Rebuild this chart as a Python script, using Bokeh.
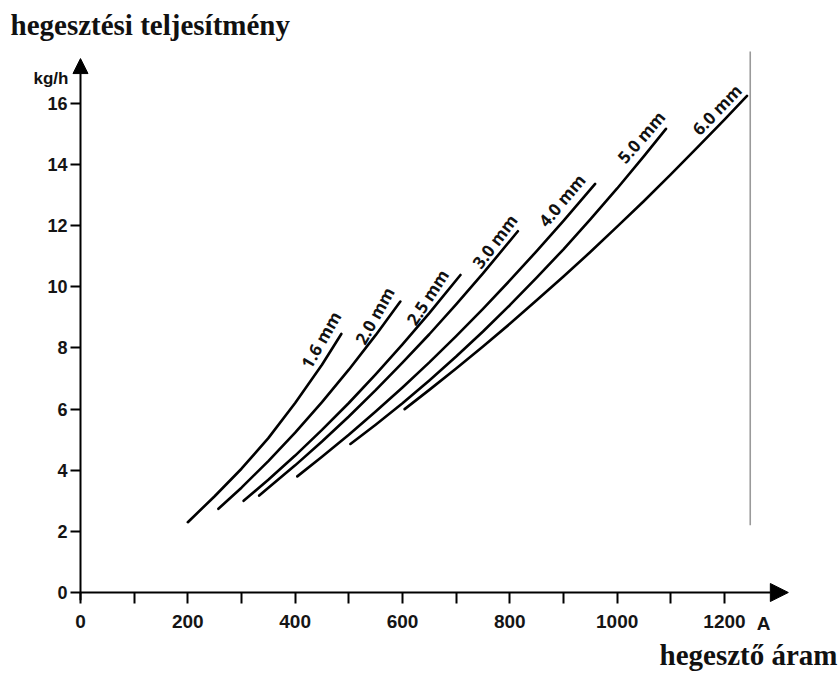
from bokeh.plotting import figure
from bokeh.models import (LinearAxis, FixedTicker, Range1d, Arrow, NormalHead,
                          Label, ColumnDataSource)
from bokeh.core.properties import value
from bokeh.embed import file_html
from bokeh.resources import INLINE

# ---------------- data ----------------
diameters = ["1.6 mm", "2.0 mm", "2.5  mm", "3.0 mm", "4.0 mm", "5.0 mm", "6.0 mm"]

current_16 = [200, 250, 300, 350, 400, 450, 486]
rate_16 = [2.3, 3.15, 4.05, 5.05, 6.2, 7.45, 8.46]

current_20 = [257, 300, 350, 400, 450, 500, 550, 596]
rate_20 = [2.74, 3.43, 4.3, 5.23, 6.23, 7.29, 8.42, 9.52]

current_25 = [304, 350, 400, 450, 500, 550, 600, 650, 708]
rate_25 = [3.0, 3.69, 4.48, 5.32, 6.2, 7.14, 8.12, 9.14, 10.39]

current_30 = [333, 400, 450, 500, 550, 600, 650, 700, 750, 815]
rate_30 = [3.17, 4.16, 4.94, 5.76, 6.62, 7.52, 8.45, 9.43, 10.44, 11.82]

current_40 = [404, 450, 500, 550, 600, 650, 700, 750, 800, 850, 900, 959]
rate_40 = [3.8, 4.44, 5.16, 5.92, 6.71, 7.53, 8.39, 9.28, 10.21, 11.17, 12.16, 13.37]

current_50 = [503, 550, 600, 650, 700, 750, 800, 850, 900, 950, 1000, 1050, 1091]
rate_50 = [4.86, 5.49, 6.19, 6.94, 7.72, 8.54, 9.4, 10.3, 11.23, 12.21, 13.22, 14.28, 15.17]

current_60 = [604, 650, 700, 750, 800, 850, 900, 950, 1000, 1050, 1100, 1150, 1200, 1242]
rate_60 = [6.0, 6.63, 7.33, 8.05, 8.79, 9.56, 10.34, 11.14, 11.97, 12.81, 13.68, 14.57, 15.47, 16.25]

x_major_ticks = [0, 200, 400, 600, 800, 1000, 1200]
x_minor_ticks = [100, 300, 500, 700, 900, 1100]
y_ticks = [0, 2, 4, 6, 8, 10, 12, 14, 16]

limit_current = 1248          # grey vertical limit line
limit_rate_span = [2.2, 17.7]

# ---------------- layout / positions (not data) ----------------
label_x = [448, 548, 649, 772, 897, 1045, 1186]
label_y = [8.27, 9.06, 9.72, 11.49, 12.83, 14.9, 15.8]
label_angle = [60, 61, 57, 53, 50, 49, 46]

X0, X1 = -149.07, 1416.2
Y0, Y1 = -2.683, 19.37

p = figure(width=840, height=674, output_backend="svg", toolbar_location=None,
           x_range=Range1d(X0, X1), y_range=Range1d(Y0, Y1),
           x_axis_type=None, y_axis_type=None, min_border=0)
p.outline_line_color = None
p.grid.visible = False
p.background_fill_color = "white"
p.border_fill_color = "white"

# axes at the data origin
xaxis = LinearAxis(fixed_location=0,
                   ticker=FixedTicker(ticks=x_major_ticks, minor_ticks=x_minor_ticks),
                   axis_line_color=None,
                   major_tick_in=0, major_tick_out=11, minor_tick_in=0, minor_tick_out=11,
                   major_tick_line_width=2, minor_tick_line_width=2,
                   major_tick_line_color="black", minor_tick_line_color="black",
                   major_label_standoff=11,
                   major_label_text_font="Liberation Sans",
                   major_label_text_font_style="bold",
                   major_label_text_font_size="19px",
                   major_label_text_color="#151515")
p.add_layout(xaxis, "below")

yaxis = LinearAxis(fixed_location=0,
                   ticker=FixedTicker(ticks=y_ticks, minor_ticks=[]),
                   axis_line_color=None,
                   major_tick_in=0, major_tick_out=10,
                   major_tick_line_width=2, major_tick_line_color="black",
                   minor_tick_line_color=None,
                   major_label_standoff=3,
                   major_label_text_font="Liberation Sans",
                   major_label_text_font_style="bold",
                   major_label_text_font_size="18px",
                   major_label_text_color="#151515")
p.add_layout(yaxis, "left")

# arrowed axis lines
p.add_layout(Arrow(end=NormalHead(size=18, fill_color="black", line_color="black"),
                   x_start=0, y_start=0, x_end=1319, y_end=0,
                   line_width=2, line_color="black"))
p.add_layout(Arrow(end=NormalHead(size=15, fill_color="black", line_color="black"),
                   x_start=0, y_start=-0.25, x_end=0, y_end=17.47,
                   line_width=2, line_color="black"))

# grey limit line
p.segment(x0=[limit_current], y0=[limit_rate_span[0]],
          x1=[limit_current], y1=[limit_rate_span[1]],
          line_color="#9a9a9a", line_width=1.6)

# curves
for xs, ys in [(current_16, rate_16), (current_20, rate_20), (current_25, rate_25),
               (current_30, rate_30), (current_40, rate_40), (current_50, rate_50),
               (current_60, rate_60)]:
    p.line(xs, ys, line_color="black", line_width=2.6, line_cap="round",
           line_join="round")

# curve labels
lab_src = ColumnDataSource(dict(x=label_x, y=label_y, text=diameters, angle=label_angle))
p.text(x="x", y="y", text="text", angle="angle", angle_units="deg", source=lab_src,
       text_align="center", text_baseline="middle",
       text_font=value("Open Sans"), text_font_style="bold",
       text_font_size="17px", text_color="#111111")

# titles / units
p.add_layout(Label(x=-130.4, y=18.58, text="hegesztési teljesítmény",
                   text_font="Liberation Serif", text_font_style="bold",
                   text_font_size="29px", text_color="#111111",
                   text_align="left", text_baseline="alphabetic"))
p.add_layout(Label(x=1410.6, y=-2.06, text="hegesztő áram",
                   text_font="Liberation Serif", text_font_style="bold",
                   text_font_size="29px", text_color="#111111",
                   text_align="right", text_baseline="alphabetic"))
p.add_layout(Label(x=-22.4, y=16.83, text="kg/h",
                   text_font="Liberation Sans", text_font_style="bold",
                   text_font_size="17px", text_color="#111111",
                   text_align="right", text_baseline="middle"))
p.add_layout(Label(x=1272.7, y=-0.687, text="A",
                   text_font="Liberation Sans", text_font_style="bold",
                   text_font_size="19px", text_color="#151515",
                   text_align="center", text_baseline="top"))

open("out.html", "w").write(file_html(p, INLINE))
